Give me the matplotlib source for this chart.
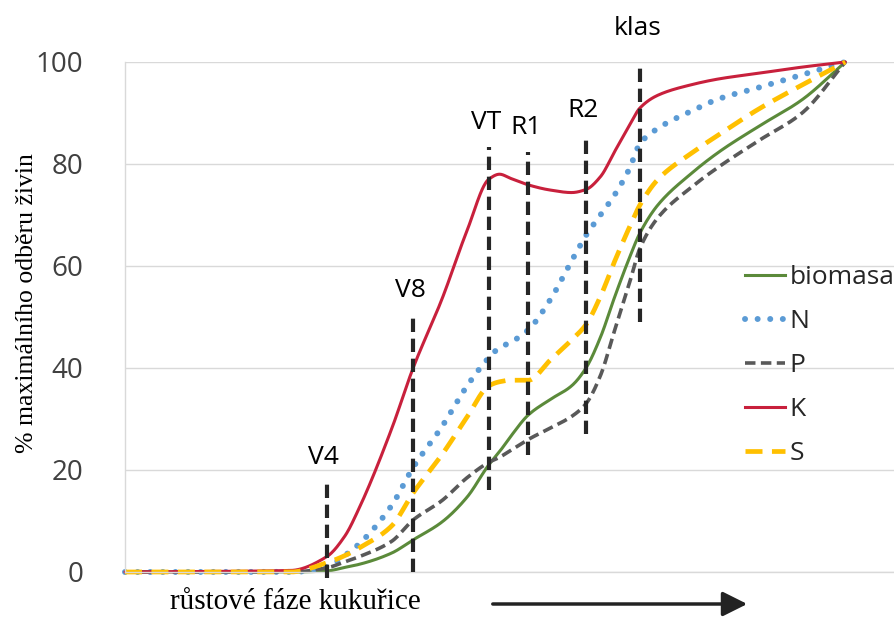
import numpy as np
import matplotlib
matplotlib.use("Agg")
import matplotlib.pyplot as plt
from matplotlib.lines import Line2D
from matplotlib.patches import FancyArrowPatch

# growth-stage axis (relative units) and uptake as % of maximum
x_stage = [0, 23, 28, 30.5, 32.5, 37, 40, 44, 47.5, 50.5, 52, 53.5, 56, 59, 62, 64,
           66, 68, 70, 71.5, 74, 78.5, 82.5, 88, 94, 100]
biomasa = [0, 0, 0.2, 0.9, 1.5, 3.7, 6.3, 9.8, 14.7, 21, 23.6, 26.5, 30.8, 33.8, 36.5, 40,
           46, 54, 61.5, 66.5, 72, 78, 82.4, 87.4, 92.6, 100]
N = [0, 0, 1, 3.2, 5.5, 13, 20.5, 28.5, 36.5, 42, 44, 45, 47.5, 53.3, 61, 66,
     70, 74, 79, 84, 87, 90.3, 92.8, 95, 97.5, 100]
P = [0, 0, 0.8, 2, 3, 6, 10.2, 14, 18.5, 21.5, 22.5, 23.8, 26, 28.2, 30.5, 33,
     38.5, 47.5, 56.5, 63.5, 69.5, 75.3, 79.5, 84.6, 90, 100]
K = [0, 0.3, 3, 7, 12.5, 28, 40, 53.5, 67, 77, 78, 77.2, 75.9, 74.9, 74.4, 75,
     77.5, 82.5, 87.5, 91, 93.5, 95.5, 96.7, 97.8, 99, 100]
S = [0, 0, 1.8, 3.2, 4.7, 9, 15.5, 23, 30.4, 36.5, 37.3, 37.6, 37.6, 41.5, 45.5, 48.5,
     54, 61, 67.5, 72, 77, 82, 85.8, 90.8, 95.5, 100]

# growth stages: position, marker bottom and top (%)
stage_names = ["V4", "V8", "VT", "R1", "R2", "klas"]
stage_x = [28, 40, 50.5, 56, 64, 71.5]
stage_lo = [-1.2, 0, 16, 23, 27, 49]
stage_hi = [17.6, 50.4, 83.3, 82.4, 85.7, 99.4]

y_ticks = [0, 20, 40, 60, 80, 100]


def pchip(x, y, n=800):
    """Shape-preserving cubic (Fritsch-Carlson) for a smooth line."""
    x = np.asarray(x, float)
    y = np.asarray(y, float)
    h = np.diff(x)
    d = np.diff(y) / h
    m = np.zeros_like(y)
    for i in range(1, len(x) - 1):
        if d[i - 1] * d[i] > 0:
            w1 = 2 * h[i] + h[i - 1]
            w2 = h[i] + 2 * h[i - 1]
            m[i] = (w1 + w2) / (w1 / d[i - 1] + w2 / d[i])
    m[0] = d[0]
    m[-1] = d[-1]
    xs = np.linspace(x[0], x[-1], n)
    idx = np.clip(np.searchsorted(x, xs) - 1, 0, len(h) - 1)
    t = (xs - x[idx]) / h[idx]
    h00 = 2 * t**3 - 3 * t**2 + 1
    h10 = t**3 - 2 * t**2 + t
    h01 = -2 * t**3 + 3 * t**2
    h11 = t**3 - t**2
    ys = (h00 * y[idx] + h10 * h[idx] * m[idx]
          + h01 * y[idx + 1] + h11 * h[idx] * m[idx + 1])
    return xs, ys


fig = plt.figure(figsize=(8.95, 6.17), dpi=100)
ax = fig.add_axes([125 / 895, 45 / 617, 770 / 895, 510 / 617])
ax.set_xlim(0, 106.9)
ax.set_ylim(0, 100)

ax.set_yticks(y_ticks)
ax.set_yticklabels([str(v) for v in y_ticks], fontfamily="Open Sans",
                   fontsize=20, color="#404040")
ax.tick_params(axis="y", length=0, pad=30)
ax.set_xticks([])
ax.grid(axis="y", color="#D9D9D9", linewidth=1)
ax.set_axisbelow(True)
for side in ("top", "right"):
    ax.spines[side].set_visible(False)
for side in ("left", "bottom"):
    ax.spines[side].set_color("#D9D9D9")
    ax.spines[side].set_linewidth(1)

series = [
    ("biomasa", biomasa, dict(color="#5B8A3A", lw=2.2, ls="-")),
    ("N", N, dict(color="#5B9BD5", lw=4.3, ls=(0, (0.01, 2.1)),
                  dash_capstyle="round")),
    ("P", P, dict(color="#595959", lw=2.6, ls=(0, (2.9, 1.5)))),
    ("K", K, dict(color="#C8203C", lw=2.2, ls="-")),
    ("S", S, dict(color="#FFC000", lw=3.4, ls=(0, (3.6, 2.0)))),
]
handles = []
for name, vals, style in series:
    xs, ys = pchip(x_stage, vals)
    ax.plot(xs, ys, clip_on=False, solid_capstyle="round", **style)
    handles.append(Line2D([], [], **style))

# growth-stage markers
for name, sx, lo, hi in zip(stage_names, stage_x, stage_lo, stage_hi):
    ax.plot([sx, sx], [lo, hi], color="#262626", lw=3,
            ls=(0, (3.2, 1.6)), clip_on=False, zorder=5)
    off = 22 if name == "klas" else 13
    ax.annotate(name, xy=(sx, hi), xytext=(-2, off), textcoords="offset points",
                ha="center", va="baseline", fontsize=19, fontfamily="Open Sans",
                color="black", annotation_clip=False)

leg = ax.legend(handles, [s[0] for s in series], loc="upper left",
                bbox_to_anchor=(745 / 895, 1 - 265 / 617),
                bbox_transform=fig.transFigure, frameon=False,
                prop={"family": "Open Sans", "size": 19},
                handlelength=1.5, handletextpad=0.2, labelspacing=0.72,
                borderaxespad=0, borderpad=0)
for t in leg.get_texts():
    t.set_color("#262626")

fig.text(27 / 895, 1 - 303 / 617, "% maximálního odběru živin",
         rotation=90, ha="center", va="center",
         fontfamily="Liberation Serif", fontsize=18.5, color="black")
fig.text(170 / 895, 1 - 609 / 617, "růstové fáze kukuřice",
         ha="left", va="baseline", fontfamily="Liberation Serif",
         fontsize=21, color="black")
fig.add_artist(FancyArrowPatch(
    (490 / 895, 1 - 604 / 617), (750 / 895, 1 - 604 / 617),
    transform=fig.transFigure, arrowstyle="-|>,head_length=10,head_width=5",
    mutation_scale=1.5, color="#222222", lw=2.5))

fig.savefig("out.png", dpi=100)
